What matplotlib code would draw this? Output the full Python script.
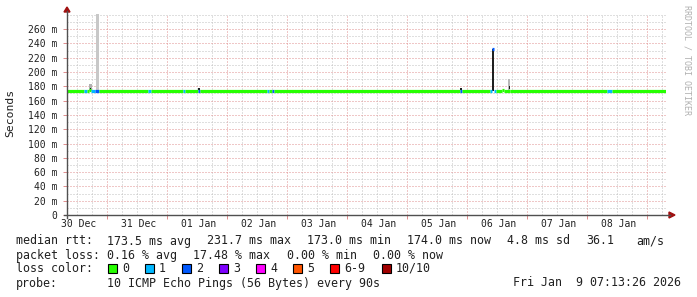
import matplotlib
matplotlib.use("Agg")
import matplotlib.pyplot as plt
from matplotlib.patches import Rectangle, Polygon
import numpy as np

# ---------------- data ----------------
# time axis: hours since 30 Dec 00:00
day_labels = ["30 Dec", "31 Dec", "01 Jan", "02 Jan", "03 Jan",
              "04 Jan", "05 Jan", "06 Jan", "07 Jan", "08 Jan"]
y_ticks = [0, 20, 40, 60, 80, 100, 120, 140, 160, 180, 200, 220, 240, 260]

# median rtt segments (ms) with packet loss count (of 10)
seg_start = [8.0, 14.8, 16.0, 16.8, 17.6, 19.2, 20.8, 40.4, 41.6, 54.4, 55.2,
             60.4, 61.2, 88.0, 88.8, 90.0, 90.8, 165.2, 166.0, 177.2, 178.0,
             178.8, 179.6, 182.0, 182.8, 185.2, 224.0, 226.0]
seg_end = [14.8, 16.0, 16.8, 17.6, 19.2, 20.8, 40.4, 41.6, 54.4, 55.2, 60.4,
           61.2, 88.0, 88.8, 90.0, 90.8, 165.2, 166.0, 177.2, 178.0, 178.8,
           179.6, 182.0, 182.8, 185.2, 224.0, 226.0, 247.5]
seg_rtt = [173.5, 173.5, 173.0, 175.5, 173.5, 173.5, 173.5, 173.5, 173.5,
           173.5, 173.5, 173.5, 173.5, 173.5, 173.5, 173.5, 173.5, 173.5,
           173.5, 173.5, 231.7, 173.5, 173.5, 175.5, 173.5, 174.0, 174.0, 174.0]
seg_loss = [0, 1, 0, 0, 1, 2, 0, 1, 0, 1, 0, 2, 0, 1, 0, 2, 0, 2, 0, 1, 2,
            1, 0, 0, 0, 0, 1, 0]

# smoke (spread of individual pings)
smoke_start = [16.8, 17.2, 19.6, 60.4, 165.2, 178.0, 184.4, 184.6]
smoke_end = [18.0, 17.6, 20.8, 61.2, 166.0, 178.8, 185.2, 185.0]
smoke_low = [173.0, 175.0, 175.0, 175.0, 175.0, 174.0, 175.0, 176.0]
smoke_high = [183.0, 178.0, 285.0, 178.0, 177.0, 231.7, 190.0, 180.0]
smoke_shade = ["#b0b0b0", "#101010", "#c8c8c8", "#202020", "#202020",
               "#202020", "#b8b8b8", "#202020"]

loss_names = ["0", "1", "2", "3", "4", "5", "6-9", "10/10"]
loss_colors = ["#26ff00", "#00b8ff", "#0059ff", "#7e00ff", "#ff00ff",
               "#ff5500", "#ff0000", "#a10000"]

stats_rtt = ["173.5 ms avg", "231.7 ms max", "173.0 ms min", "174.0 ms now",
             "4.8 ms sd", "36.1", "am/s"]
stats_loss = ["0.16 % avg", "17.48 % max", "0.00 % min", "0.00 % now"]
probe_text = "10 ICMP Echo Pings (56 Bytes) every 90s"
date_text = "Fri Jan  9 07:13:26 2026"

# ---------------- figure ----------------
W, H = 697, 297
fig = plt.figure(figsize=(W / 100, H / 100), dpi=100)
fig.patch.set_facecolor("white")

x0, x1, ytop, ybot = 67, 666, 14, 215
ax = fig.add_axes([x0 / W, 1 - ybot / H, (x1 - x0) / W, (ybot - ytop) / H])
ax.set_xlim(8.0, 8.0 + (x1 - x0) / 2.5)
ax.set_ylim(0, (ybot - ytop) / 14.3 * 20)

MONO = "DejaVu Sans Mono"
lw1 = 0.72
GRIDRED = "#e09090"

# grid
ax.set_xticks(np.arange(24, 248, 24))
ax.set_xticks(np.arange(12, 248, 6), minor=True)
ax.set_yticks(y_ticks)
ax.set_yticks(np.arange(10, 281, 10), minor=True)
ax.grid(which="minor", color="#c0c0c0", linestyle=(0, (1, 2)), linewidth=lw1)
ax.grid(which="major", color=GRIDRED, linestyle=(0, (1, 2)), linewidth=lw1)
ax.set_axisbelow(True)

ax.set_xticklabels([])
ax.tick_params(axis="x", which="minor", length=0)
ax.tick_params(axis="x", which="major", length=3, color=GRIDRED, width=lw1)
ax.tick_params(axis="y", which="minor", length=0)
ax.tick_params(axis="y", which="major", length=3, color=GRIDRED, width=lw1,
               pad=4, labelsize=7.05, labelcolor="#202020")
ax.set_yticklabels(["0" if v == 0 else f"{v} m" for v in y_ticks], family=MONO)

for s in ["top", "right", "left", "bottom"]:
    ax.spines[s].set_visible(False)

# day labels at noon
for i, lab in enumerate(day_labels):
    ax.text(12 + 24 * i + 0.6, -5.5, lab, ha="center", va="top", family=MONO,
            fontsize=7.05, color="#202020", transform=ax.transData, clip_on=False)

# smoke
for s, e, lo, hi, c in zip(smoke_start, smoke_end, smoke_low, smoke_high, smoke_shade):
    ax.fill_between([s, e], [lo, lo], [hi, hi], color=c, linewidth=0, zorder=3)

# median line coloured by loss
for s, e, r, l in zip(seg_start, seg_end, seg_rtt, seg_loss):
    ax.hlines(r, s, e, color=loss_colors[l], linewidth=2.3, zorder=4)

# axis lines and arrows
fig.add_artist(plt.Line2D([x0 / W, x0 / W], [1 - (ybot + 3) / H, 1 - 11 / H],
                          color="#505050", linewidth=1.0))
fig.add_artist(plt.Line2D([(x0 - 3) / W, 670 / W], [1 - ybot / H, 1 - ybot / H],
                          color="#505050", linewidth=1.0))
fig.patches.append(Polygon([[(x0 - 3) / W, 1 - 12 / H], [(x0 + 3) / W, 1 - 12 / H],
                            [x0 / W, 1 - 7 / H]], closed=True, color="#a01010",
                           transform=fig.transFigure))
fig.patches.append(Polygon([[669 / W, 1 - (ybot - 3) / H], [669 / W, 1 - (ybot + 3) / H],
                            [675 / W, 1 - ybot / H]], closed=True, color="#a01010",
                           transform=fig.transFigure))

# y label
fig.text(10.5 / W, 1 - 113 / H, "Seconds", rotation=90, ha="center", va="center",
         family=MONO, fontsize=8.2, color="#202020")
# watermark
fig.text(687 / W, 1 - 5 / H, "RRDTOOL / TOBI OETIKER", rotation=270, ha="center",
         va="top", family=MONO, fontsize=6.0, color="#b0b0b0")


def ft(xp, yp, s, **kw):
    fig.text(xp / W, 1 - yp / H, s, family=MONO, fontsize=8.35, color="#202020",
             va="center", **kw)


ft(16, 241, "median rtt:")
for xp, s in zip([107, 207, 307, 407, 507, 586, 636], stats_rtt):
    ft(xp, 241, s)
ft(16, 255.5, "packet loss:")
for xp, s in zip([107, 193, 287, 373], stats_loss):
    ft(xp, 255.5, s)
ft(16, 268, "loss color:")
for xp, name, c in zip([108, 145, 182, 219, 256, 293, 330, 382], loss_names, loss_colors):
    fig.patches.append(Rectangle((xp / W, 1 - 272.5 / H), 8.5 / W, 9 / H, facecolor=c,
                                 edgecolor="black", linewidth=0.8,
                                 transform=fig.transFigure))
    ft(xp + 14, 268, name)
ft(16, 283, "probe:")
ft(107, 283, probe_text)
ft(681, 283, date_text, ha="right")

fig.savefig("out.png", dpi=100, facecolor="white")
